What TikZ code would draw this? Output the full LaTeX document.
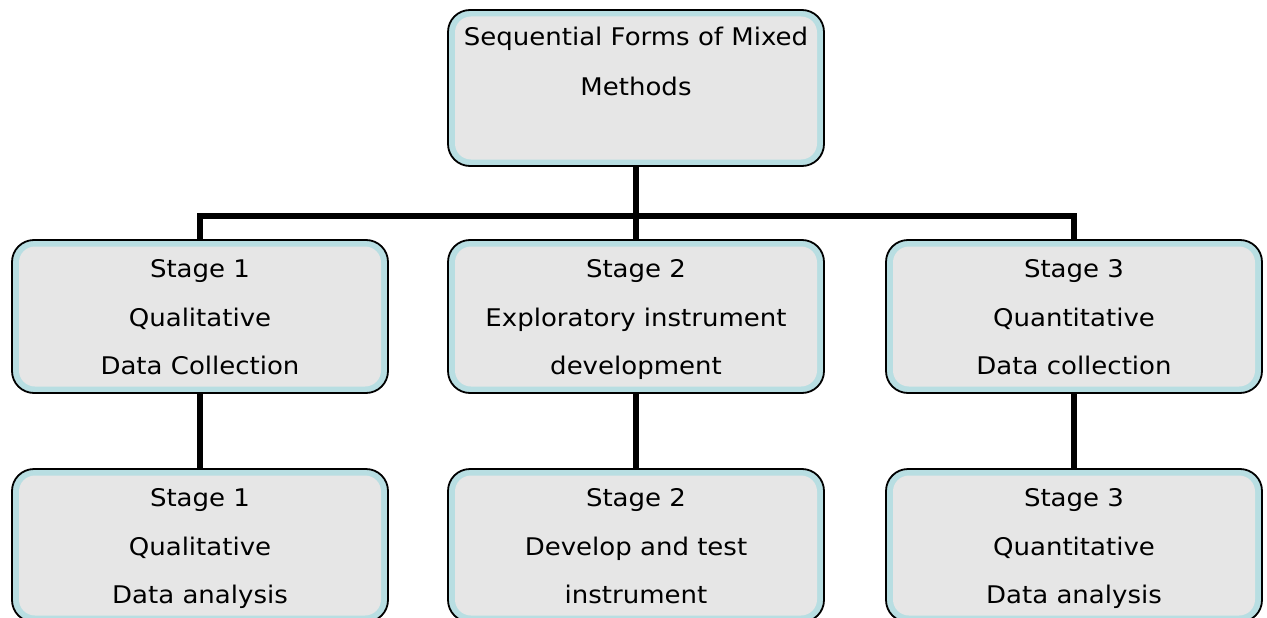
\documentclass[tikz,border=0pt]{standalone}
\usepackage{fontspec}
\setmainfont{DejaVu Sans}[FakeStretch=1.07]
\definecolor{bandblue}{HTML}{B8DEE2}
\definecolor{panelgray}{HTML}{E6E6E6}
\tikzset{
  stagebox/.style={
    draw=black, line width=1.8pt, fill=bandblue, rounded corners=22pt,
    minimum width=376pt, minimum height=153pt, inner sep=0pt,
    align=center, font=\fontsize{24.3}{48.5}\selectfont,
    path picture={
      \fill[panelgray, rounded corners=16pt]
        ([shift={(7pt,6.5pt)}]path picture bounding box.south west)
        rectangle ([shift={(-7pt,-6.5pt)}]path picture bounding box.north east);
    }
  },
  topbox/.style={stagebox, minimum width=376pt, minimum height=152pt,
    font=\fontsize{24.3}{50}\selectfont},
  conn/.style={draw=black, line width=6pt}
}
\begin{document}
\begin{tikzpicture}[x=1pt, y=-1pt]
  \fill[white] (0,0) rectangle (1267,618);
  \clip (0,0) rectangle (1267,618);

  % top box
  \node[topbox] (top) at (636,88)
    {\strut Sequential Forms of Mixed\\Methods\\[6pt]\strut};

  % stage row
  \node[stagebox] (s1) at (200,316.5) {\strut Stage 1\\Qualitative\\Data Collection\strut};
  \node[stagebox] (s2) at (636,316.5) {\strut Stage 2\\Exploratory instrument\\development\strut};
  \node[stagebox] (s3) at (1074,316.5) {\strut Stage 3\\Quantitative\\Data collection\strut};

  % follow-up row
  \node[stagebox] (a1) at (200,545.5) {\strut Stage 1\\Qualitative\\Data analysis\strut};
  \node[stagebox] (a2) at (636,545.5) {\strut Stage 2\\Develop and test\\instrument\strut};
  \node[stagebox] (a3) at (1074,545.5) {\strut Stage 3\\Quantitative\\Data analysis\strut};

  % bus joining the top box to the three stages
  \coordinate (busL) at (200,216);
  \coordinate (busM) at (636,216);
  \coordinate (busR) at (1074,216);

  \draw[conn] (top.south) -- (busM);
  \draw[conn] (s1.north) -- (busL) -- (busR) -- (s3.north);
  \draw[conn] (busM) -- (s2.north);

  % each stage leads to its follow-up
  \draw[conn] (s1.south) -- (a1.north);
  \draw[conn] (s2.south) -- (a2.north);
  \draw[conn] (s3.south) -- (a3.north);
\end{tikzpicture}
\end{document}
